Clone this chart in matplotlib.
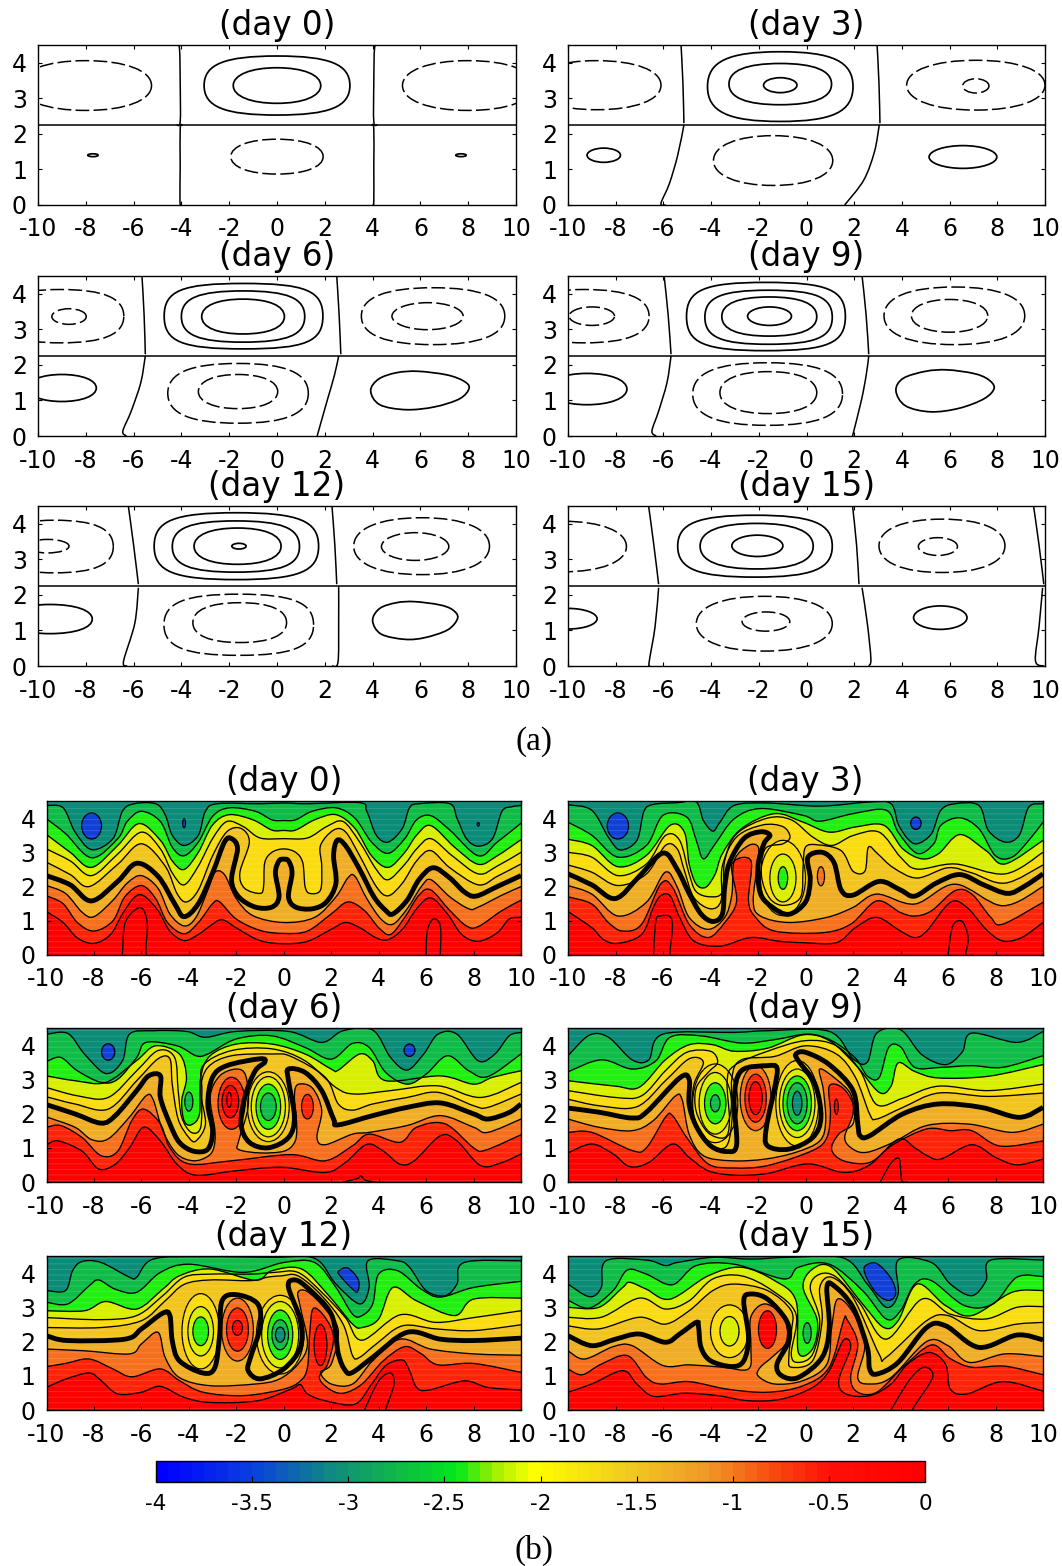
import matplotlib
matplotlib.use("Agg")
import matplotlib.pyplot as plt
from matplotlib.path import Path
from matplotlib.patches import PathPatch, Rectangle
from matplotlib.colors import LinearSegmentedColormap, Normalize
from matplotlib.cm import ScalarMappable

W, H = 1062, 1566

x_ticks = [-10, -8, -6, -4, -2, 0, 2, 4, 6, 8, 10]
y_ticks = [0, 1, 2, 3, 4]
day_names = ["(day 0)", "(day 3)", "(day 6)", "(day 9)", "(day 12)", "(day 15)"]
cbar_ticks = [-4, -3.5, -3, -2.5, -2, -1.5, -1, -0.5, 0]
cbar_labels = ["-4", "-3.5", "-3", "-2.5", "-2", "-1.5", "-1", "-0.5", "0"]
cbar_stops = [(0.0, "#0000ff"), (0.12, "#0a40e0"), (0.225, "#108a80"), (0.31, "#10b848"),
              (0.39, "#00e81c"), (0.44, "#a0f000"), (0.49, "#ffff00"), (0.62, "#f0c820"),
              (0.72, "#f09828"), (0.80, "#f85010"), (0.88, "#ff1008"), (1.0, "#ff0000")]
band_colors = ["#ff0000", "#ff2408", "#f6701e", "#efae26", "#f2c41e", "#fadc10",
               "#d8f000", "#20f010", "#10bc48", "#0a8c78", "#1040d8"]

# ---- (a) streamfunction loops: cx, cy, rx, ry, squareness
a0_solid = [(0, 3.36, 3.05, 0.83, 0.72), (0, 3.36, 1.83, 0.5, 0.6), (-7.7, 1.4, 0.22, 0.04, 0.55), (7.7, 1.4, 0.22, 0.04, 0.55)]
a0_dash = [(-8, 3.36, 2.75, 0.7, 0.6), (8, 3.36, 2.75, 0.7, 0.6), (0, 1.36, 1.93, 0.49, 0.6)]
a0_sep = [[(-4.2, 4.5), (-4.08, 4.4), (-4.05, 3.4), (-4.05, 2.35), (-4.2, 2.25)], [(4.2, 4.5), (4.08, 4.4), (4.05, 3.4), (4.05, 2.35), (4.2, 2.25)],
          [(-10, 2.25), (10, 2.25)], [(-4.0, 0), (-4.06, 0.1), (-4.05, 1.1), (-4.05, 2.15), (-3.95, 2.25)], [(4.0, 0), (4.05, 0.1), (4.05, 1.1), (4.05, 2.15), (3.95, 2.25)]]
a0_blob = []

a3_solid = [(-1.1, 3.33, 3.05, 0.98, 0.72), (-1.1, 3.4, 2.15, 0.58, 0.66), (-1.1, 3.37, 0.7, 0.21, 0.55),
            (-8.5, 1.4, 0.7, 0.2, 0.55), (6.56, 1.35, 1.42, 0.32, 0.55)]
a3_dash = [(-8.8, 3.37, 2.7, 0.69, 0.6), (7.1, 3.37, 2.9, 0.7, 0.6), (7.1, 3.35, 0.55, 0.2, 0.55), (-1.4, 1.25, 2.5, 0.7, 0.6)]
a3_sep = [[(-5.26, 4.5), (-5.18, 3.4), (-5.14, 2.3)], [(-5.14, 2.25), (-5.4, 1.4), (-5.75, 0.6), (-6.1, 0.05), (-5.9, 0)], [(2.96, 4.5), (3.04, 3.4), (3.08, 2.3)],
          [(3.05, 2.25), (2.85, 1.5), (2.4, 0.7), (1.6, 0)], [(-10, 2.25), (10, 2.25)]]
a3_blob = []

a6_solid = [(-1.4, 3.37, 3.32, 0.92, 0.78), (-1.42, 3.36, 2.58, 0.72, 0.72), (-1.42, 3.36, 1.73, 0.49, 0.62), (-9.0, 1.35, 1.44, 0.38, 0.58)]
a6_dash = [(-9.06, 3.37, 2.65, 0.75, 0.68), (-8.7, 3.36, 0.72, 0.22, 0.55), (6.53, 3.37, 3.0, 0.8, 0.66), (6.3, 3.37, 1.49, 0.38, 0.55),
           (-1.63, 1.2, 2.94, 0.84, 0.68), (-1.63, 1.25, 1.66, 0.48, 0.6)]
a6_blob = [(3.92, 1.27), (4.25, 1.6), (5.0, 1.78), (5.9, 1.82), (7.1, 1.72), (7.8, 1.55), (8.04, 1.35), (7.65, 1.05), (6.6, 0.82), (5.4, 0.74), (4.3, 0.88)]
a6_sep = [[(-5.65, 4.5), (-5.56, 3.4), (-5.51, 2.3)], [(-5.51, 2.25), (-5.7, 1.5), (-6.1, 0.7), (-6.45, 0.14), (-6.3, 0)], [(1.68, 0), (2.1, 1.0), (2.4, 1.7), (2.58, 2.25)],
          [(2.5, 4.5), (2.6, 3.4), (2.67, 2.3)], [(-10, 2.25), (10, 2.25)]]

a9_solid = [(-1.7, 3.36, 3.33, 0.96, 0.78), (-1.59, 3.34, 2.67, 0.76, 0.74), (-1.56, 3.36, 1.99, 0.55, 0.66), (-1.55, 3.37, 0.92, 0.26, 0.55),
            (-9.2, 1.32, 1.67, 0.44, 0.58)]
a9_dash = [(-9.3, 3.37, 2.7, 0.75, 0.66), (-9, 3.37, 0.95, 0.26, 0.55), (6.2, 3.38, 2.95, 0.81, 0.64), (6, 3.38, 1.6, 0.46, 0.58),
           (-1.63, 1.18, 3.14, 0.88, 0.68), (-1.6, 1.22, 2.03, 0.59, 0.62)]
a9_blob = [(3.75, 1.27), (4.05, 1.62), (5.0, 1.82), (5.9, 1.86), (7.0, 1.76), (7.6, 1.6), (7.87, 1.35), (7.45, 1.05), (6.4, 0.78), (5.2, 0.68), (4.15, 0.85)]
a9_sep = [[(-5.97, 4.5), (-5.8, 3.4), (-5.68, 2.3)], [(-5.68, 2.25), (-5.85, 1.5), (-6.2, 0.7), (-6.48, 0.14), (-6.3, 0)], [(1.93, 0), (2.3, 1.0), (2.5, 1.7), (2.61, 2.25)],
          [(2.33, 4.5), (2.5, 3.4), (2.61, 2.3)], [(-10, 2.25), (10, 2.25)]]

a12_solid = [(-1.7, 3.37, 3.44, 0.94, 0.76), (-1.72, 3.36, 2.66, 0.72, 0.72), (-1.65, 3.37, 1.82, 0.51, 0.62), (-1.59, 3.37, 0.3, 0.08, 0.55),
             (-9.5, 1.32, 1.77, 0.41, 0.6)]
a12_dash = [(-9.3, 3.36, 2.45, 0.74, 0.68), (-9.6, 3.37, 0.9, 0.19, 0.55), (6.05, 3.37, 2.84, 0.8, 0.62), (5.78, 3.36, 1.41, 0.39, 0.55),
            (-1.6, 1.16, 3.13, 0.86, 0.72), (-1.56, 1.22, 1.96, 0.56, 0.64)]
a12_blob = [(4, 1.28), (4.3, 1.62), (5.0, 1.78), (5.75, 1.81), (6.8, 1.72), (7.35, 1.58), (7.56, 1.35), (7.15, 1.02), (6.2, 0.8), (5.35, 0.75), (4.35, 0.9)]
a12_sep = [[(-6.22, 4.5), (-6, 3.4), (-5.8, 2.3)], [(-5.8, 2.2), (-5.95, 1.2), (-6.42, 0.14), (-6.28, 0)], [(2.3, 0), (2.55, 0.1), (2.58, 1.2), (2.58, 2.25)],
           [(2.3, 4.5), (2.42, 3.4), (2.5, 2.3)], [(-10, 2.25), (10, 2.25)]]

a15_solid = [(-2.16, 3.37, 3.24, 0.87, 0.74), (-2.09, 3.37, 2.37, 0.64, 0.66), (-2.06, 3.38, 1.07, 0.3, 0.55),
             (-10, 1.33, 1.22, 0.29, 0.55), (5.61, 1.36, 1.12, 0.33, 0.55)]
a15_dash = [(-10.2, 3.36, 2.65, 0.71, 0.6), (5.68, 3.38, 2.64, 0.75, 0.62), (5.51, 3.36, 0.82, 0.25, 0.55),
            (-1.77, 1.19, 2.85, 0.77, 0.62), (-1.7, 1.25, 1.0, 0.27, 0.55)]
a15_blob = []
a15_sep = [[(-6.62, 4.5), (-6.4, 3.4), (-6.2, 2.3)], [(-6.2, 2.2), (-6.35, 1.1), (-6.6, 0.1), (-6.55, 0)], [(2.61, 0), (2.7, 0.2), (2.55, 1.2), (2.33, 2.2)],
           [(1.93, 4.5), (2.1, 3.4), (2.2, 2.3)], [(9.52, 4.5), (9.75, 3.4), (9.95, 2.3)], [(9.9, 2.2), (9.75, 1.1), (9.6, 0.15), (9.95, 0)], [(-10, 2.25), (10, 2.25)]]

# ---- (b) vorticity contour levels, lowest to highest, index 3 is the thick one
day0_levels = [
    [(-10, 1.27), (-9.3, 0.95), (-8.7, 0.5), (-8, 0.34), (-7.3, 0.6), (-6.8, 1.2), (-6.3, 1.68), (-5.9, 1.73), (-5.3, 1.3), (-4.8, 0.7), (-4.2, 0.42), (-3.6, 0.6), (-3.1, 0.85), (-2.6, 1.03), (-1.9, 0.75), (-1, 0.42), (0, 0.33), (1, 0.4), (2, 0.75), (2.6, 0.95), (3.2, 0.8), (3.9, 0.5), (4.4, 0.45), (5, 0.75), (5.6, 1.35), (6.2, 1.67), (6.9, 1.2), (7.5, 0.6), (8.2, 0.4), (9, 0.65), (9.5, 1.05), (10, 1.1)],
    [(-10, 1.73), (-9.3, 1.5), (-8.7, 0.95), (-8, 0.7), (-7.2, 1.0), (-6.7, 1.7), (-6, 2.03), (-5.4, 1.65), (-4.9, 0.95), (-4.2, 0.62), (-3.6, 0.95), (-3, 1.5), (-2.7, 1.55), (-2, 1.05), (-1, 0.72), (0, 0.63), (1, 0.7), (2, 1.2), (2.7, 1.55), (3.4, 1.3), (4, 0.8), (4.5, 0.6), (5.1, 1.1), (5.7, 1.75), (6.2, 1.9), (7, 1.3), (7.7, 0.85), (8.2, 0.83), (9.2, 1.3), (10, 1.6)],
    [(-10, 2.03), (-9.2, 1.8), (-8.5, 1.25), (-8, 1.12), (-7.2, 1.6), (-6.6, 2.1), (-6, 2.32), (-5.3, 1.95), (-4.8, 1.2), (-4.2, 0.85), (-3.7, 1.1), (-3.2, 1.9), (-2.9, 2.42), (-2.5, 2.35), (-2, 1.65), (-1.3, 1.15), (0, 0.95), (1.3, 1.1), (2.2, 1.7), (2.7, 2.25), (3, 2.3), (3.5, 1.65), (4.1, 1.05), (4.6, 0.9), (5.2, 1.35), (5.8, 2.0), (6.2, 2.2), (7, 1.7), (7.8, 1.35), (8.2, 1.4), (9.2, 1.75), (10, 2.0)],
    [(-10, 2.32), (-9, 2.05), (-8.1, 1.58), (-7, 2.15), (-6.2, 2.68), (-5.3, 2.3), (-4.6, 1.5), (-4.2, 1.12), (-3.6, 1.5), (-3, 2.4), (-2.5, 3.3), (-2.2, 3.4), (-1.95, 3.1), (-2.2, 2.2), (-1.9, 1.7), (-1.2, 1.4), (-0.5, 1.4), (-0.2, 1.7), (-0.35, 2.4), (-0.2, 2.75), (0, 2.8), (0.2, 2.75), (0.35, 2.4), (0.2, 1.7), (0.5, 1.4), (1.2, 1.35), (1.8, 1.55), (2.2, 2.1), (2.1, 2.9), (2.25, 3.35), (2.6, 3.2), (3.2, 2.5), (3.8, 1.7), (4.3, 1.3), (4.6, 1.2), (5.2, 1.6), (5.7, 2.2), (6.3, 2.55), (7, 2.25), (7.6, 1.85), (8.1, 1.72), (9, 2.0), (10, 2.32)],
    [(-10, 2.71), (-9, 2.35), (-8.2, 2.0), (-7, 2.65), (-6, 3.25), (-5, 2.6), (-4.5, 1.8), (-4.1, 1.55), (-3.6, 1.9), (-3, 2.9), (-2.4, 3.6), (-1.8, 3.7), (-1.45, 3.3), (-1.85, 2.4), (-1.65, 1.95), (-1, 1.8), (-0.85, 2.0), (-0.8, 2.7), (-0.5, 3.0), (0, 3.1), (0.5, 3.0), (0.8, 2.7), (0.9, 2.0), (1.1, 1.8), (1.55, 1.9), (1.6, 2.6), (1.55, 3.2), (2.1, 3.65), (2.6, 3.6), (3.2, 2.9), (3.9, 2.0), (4.4, 1.73), (5, 2.1), (5.6, 2.75), (6.2, 3.05), (7, 2.55), (8.2, 2.05), (9, 2.3), (10, 2.66)],
    [(-10, 3.1), (-9, 2.75), (-8.1, 2.32), (-7, 2.95), (-6, 3.59), (-5.2, 3.1), (-4.7, 2.4), (-4.2, 2.05), (-3.6, 2.6), (-3, 3.4), (-2.4, 3.9), (-1.7, 3.75), (-1, 3.42), (0, 3.4), (1, 3.42), (1.8, 3.75), (2.5, 3.9), (3.2, 3.3), (3.9, 2.5), (4.4, 2.2), (5.1, 2.65), (5.6, 3.1), (6.2, 3.4), (7.1, 2.9), (8.2, 2.37), (9, 2.6), (10, 3.0)],
    [(-10, 3.52), (-9, 3.0), (-8.1, 2.56), (-7, 3.2), (-6.1, 3.84), (-5.2, 3.35), (-4.7, 2.75), (-4.2, 2.5), (-3.6, 3.0), (-3, 3.8), (-2.3, 4.1), (-1.3, 3.95), (-0.5, 3.65), (0, 3.64), (0.5, 3.65), (1.3, 3.95), (2.2, 4.1), (3, 3.7), (3.7, 2.9), (4.4, 2.56), (5.1, 3.0), (5.6, 3.5), (6.2, 3.78), (7.2, 3.15), (8.2, 2.65), (9, 2.9), (10, 3.37)],
    [(-10, 3.98), (-9.2, 3.55), (-8.1, 2.84), (-7, 3.4), (-6.6, 3.9), (-6, 4.2), (-5.2, 3.9), (-4.7, 3.15), (-4.2, 2.9), (-3.6, 3.3), (-3, 4.05), (-2.3, 4.3), (-1.2, 4.2), (-0.5, 3.95), (0, 3.93), (0.5, 3.95), (1.2, 4.2), (2.2, 4.3), (3, 4.0), (3.7, 3.3), (4.4, 2.97), (5.1, 3.4), (5.6, 3.95), (6.2, 4.07), (7, 3.65), (8.2, 2.9), (9, 3.3), (10, 3.85)],
    [(-10, 4.37), (-9.3, 4.3), (-8.8, 3.6), (-8.1, 3.08), (-7.2, 3.4), (-6.8, 4.2), (-6.3, 4.42), (-5.4, 4.42), (-5, 4.1), (-4.7, 3.5), (-4.2, 3.2), (-3.6, 3.5), (-3.3, 4.2), (-2.8, 4.42), (-1, 4.42), (0, 4.44), (1, 4.42), (3.2, 4.45), (3.5, 4.2), (3.9, 3.5), (4.4, 3.3), (5, 3.7), (5.3, 4.3), (5.7, 4.42), (7, 4.42), (7.3, 4.0), (7.7, 3.4), (8.2, 3.18), (8.8, 3.4), (9.2, 4.2), (9.6, 4.33), (10, 4.37)],
]
day0_humps = [[(-6.8, 0), (-6.7, 0.9), (-6.3, 1.3), (-5.95, 1.35), (-5.75, 0.9), (-5.8, 0.05), (-5.5, 0)], [(6.0, 0), (6.05, 0.7), (6.3, 1.05), (6.6, 0.85), (6.6, 0)]]
day0_islands = [(-8.1, 3.77, 0.42, 0.38, 10), (-4.2, 3.85, 0.06, 0.13, 10), (8.2, 3.82, 0.05, 0.05, 10)]
day0_blobs = []

day3_levels = [
    [(-10, 1.27), (-9, 0.8), (-8.5, 0.45), (-7.9, 0.34), (-6.9, 0.6), (-6.4, 1.4), (-6.1, 1.73), (-5.7, 1.73), (-5.3, 1.1), (-4.7, 0.41), (-3.6, 0.26), (-2.3, 0.51), (-1.1, 0.4), (-0.1, 0.36), (1.3, 0.36), (2.1, 0.8), (3, 1.1), (4, 0.7), (4.6, 0.51), (5.1, 0.7), (6.1, 1.54), (6.8, 1.39), (7.6, 0.75), (8.3, 0.41), (9.1, 0.51), (10, 0.95)],
    [(-10, 1.7), (-9, 1.49), (-8.3, 0.95), (-7.7, 0.7), (-6.9, 0.9), (-6.1, 2.07), (-5.6, 1.98), (-4.9, 0.9), (-4.1, 0.51), (-3.4, 0.95), (-2.9, 1.58), (-3.1, 2.65), (-2.3, 2.76), (-2.4, 1.58), (-2.1, 1.1), (-1.3, 0.7), (0.7, 0.65), (1.9, 0.9), (3, 1.58), (4, 1.24), (4.6, 1.14), (5.3, 1.29), (6.3, 1.88), (7, 1.78), (7.8, 1.1), (8.3, 0.9), (10, 1.54)],
    [(-10, 2.03), (-9, 1.78), (-7.9, 1.14), (-6.7, 1.54), (-5.9, 2.42), (-5.4, 1.98), (-4.9, 1.1), (-4.1, 0.75), (-3.4, 1.1), (-3.1, 1.77), (-3.0, 2.76), (-2.4, 3.2), (-2, 3.17), (-2, 2.76), (-2.2, 1.58), (-1.9, 1.14), (-0.7, 0.95), (0.9, 1.1), (2, 1.39), (3, 1.78), (4.6, 1.49), (6.3, 2.07), (8.3, 1.44), (10, 2.0)],
    [(-10, 2.37), (-9, 2.05), (-8, 1.65), (-7, 2.3), (-6, 2.98), (-5.4, 2.5), (-4.9, 1.8), (-4.4, 1.2), (-3.9, 0.98), (-3.5, 1.2), (-3.4, 2.0), (-3.2, 2.7), (-2.6, 3.4), (-1.9, 3.6), (-1.5, 3.5), (-1.75, 3.25), (-2, 2.6), (-1.9, 1.8), (-1.4, 1.4), (-0.7, 1.19), (0, 1.55), (0.2, 2.2), (0.1, 2.85), (0.7, 3.0), (1.2, 2.7), (1.5, 1.9), (2, 1.75), (3.1, 2.15), (4.0, 1.9), (4.6, 1.72), (5.5, 2.1), (6.5, 2.35), (7.5, 2.05), (8.5, 1.8), (9.2, 2.0), (10, 2.37)],
    [(-10, 2.63), (-9, 2.42), (-7.9, 2.03), (-6.7, 2.37), (-5.9, 3.2), (-5.4, 3.1), (-5.1, 2.47), (-4.7, 1.68), (-4, 1.35), (-3.55, 1.6), (-3.5, 2.6), (-2.9, 3.45), (-1.8, 3.8), (-0.95, 3.75), (-0.65, 3.45), (-0.95, 3.25), (-1.7, 3.1), (-1.85, 2.3), (-1.5, 1.65), (-0.9, 1.45), (-0.2, 1.7), (-0.1, 2.6), (0, 3.15), (0.5, 3.22), (1.5, 3.05), (2, 2.45), (2.5, 2.45), (2.65, 3.15), (3.05, 2.95), (3.7, 2.55), (4.7, 2.25), (6, 2.55), (7, 2.4), (8.4, 2.1), (10, 2.63)],
    [(-10, 3.0), (-9, 2.86), (-7.9, 2.32), (-6.7, 2.66), (-5.9, 3.49), (-5.3, 3.35), (-4.9, 2.37), (-4.6, 1.85), (-4, 1.7), (-3.5, 1.85), (-3.4, 2.76), (-2.9, 3.54), (-1.6, 4.0), (-0.6, 3.95), (0.3, 3.45), (1.1, 3.2), (2, 3.49), (3.1, 3.59), (4, 2.86), (4.7, 2.51), (6.3, 2.66), (8.4, 2.37), (10, 3.0)],
    [(-10, 3.38), (-9, 3.2), (-7.9, 2.58), (-6.7, 2.91), (-5.7, 3.79), (-5.1, 3.59), (-4.9, 2.66), (-4.6, 2.07), (-4.2, 1.98), (-3.8, 2.37), (-3.5, 2.96), (-2.7, 3.69), (-1.3, 4.13), (-0.1, 3.88), (1, 3.59), (2.1, 3.74), (3.3, 3.79), (4.1, 3.1), (4.9, 2.81), (5.6, 2.96), (6.5, 3.52), (7.6, 3.05), (8.4, 2.66), (10, 3.35)],
    [(-10, 3.88), (-9, 3.5), (-7.9, 2.86), (-6.7, 3.2), (-6, 4.08), (-5, 4.03), (-4.6, 3.35), (-4.3, 2.81), (-3.8, 3.25), (-3, 3.98), (-1.9, 4.28), (-0.1, 4.08), (0.6, 3.91), (2, 4.13), (3.4, 4.23), (3.9, 3.59), (4.7, 2.97), (5.4, 3.25), (5.7, 3.79), (6.5, 4.01), (7.3, 3.69), (8, 2.9), (8.7, 2.86), (9.4, 3.35), (10, 3.88)],
    [(-10, 4.39), (-9, 4.23), (-8.3, 3.44), (-7.8, 3.07), (-7.1, 3.35), (-6.8, 4.2), (-6.4, 4.4), (-5.4, 4.45), (-4.6, 4.47), (-4.3, 3.93), (-3.9, 3.62), (-3.6, 3.88), (-3, 4.37), (-1.6, 4.44), (0.6, 4.35), (2.7, 4.47), (3.6, 4.42), (3.9, 3.83), (4.3, 3.4), (4.7, 3.25), (5.3, 3.54), (5.7, 4.23), (6.3, 4.42), (7.3, 4.37), (7.7, 3.64), (8.4, 3.3), (9, 3.5), (9.4, 4.32), (10, 4.42)],
]
day3_humps = [[(-6.4, 0), (-6.3, 1.0), (-6.1, 1.14), (-5.7, 1.12), (-5.6, 0.8), (-5.7, 0), (-5.4, 0)], [(6.0, 0), (6.2, 0.85), (6.6, 0.98), (6.85, 0.5), (6.75, 0), (7, 0)]]
day3_islands = [(-7.9, 3.77, 0.45, 0.38, 10), (4.65, 3.85, 0.22, 0.18, 10), (-0.95, 2.25, 0.95, 1.1, 5), (-0.95, 2.25, 0.55, 0.7, 6), (-0.95, 2.25, 0.2, 0.33, 7), (0.65, 2.3, 0.15, 0.28, 2)]
day3_blobs = []

day6_levels = [
    [(-10, 1.09), (-9.5, 1.2), (-8.5, 0.9), (-7.8, 0.38), (-7.1, 0.52), (-6.5, 1.0), (-5.9, 1.6), (-5.2, 1.2), (-4.5, 0.52), (-3.7, 0.2), (-2, 0.33), (-0.1, 0.43), (1.75, 0.28), (2.6, 0.57), (3.5, 1.1), (4.2, 0.9), (4.9, 0.52), (5.5, 0.62), (6.6, 1.35), (7.3, 1.2), (8.3, 0.48), (9.2, 0.57), (10, 0.82)],
    [(-10, 1.6), (-9.4, 1.65), (-8.5, 1.3), (-7.7, 0.77), (-7, 0.9), (-6.4, 1.8), (-5.9, 2.13), (-5.2, 1.7), (-4.8, 1.0), (-4, 0.53), (-2.2, 0.62), (0.3, 0.8), (1.75, 0.62), (2.9, 1.06), (3.6, 1.4), (4.9, 1.16), (5.6, 1.6), (6.8, 1.7), (8, 1.0), (8.5, 0.93), (10, 1.38)],
    [(-10, 1.9), (-8.8, 1.6), (-8.1, 1.24), (-7.4, 1.26), (-6.5, 1.9), (-5.8, 2.52), (-5.5, 2.4), (-5.1, 1.5), (-4.5, 0.82), (-3.8, 0.62), (-3.2, 0.75), (-2.95, 1.0), (-2.9, 1.5), (-3.1, 2.5), (-2.7, 3.1), (-2, 3.3), (-1.6, 3.1), (-1.5, 2.2), (-1.9, 1.2), (-1.9, 0.95), (-1, 0.85), (0, 0.9), (0.45, 1.15), (0.55, 1.6), (0.45, 2.5), (0.6, 2.85), (1.2, 2.75), (1.6, 2.1), (1.4, 1.3), (1.75, 1.09), (2.9, 1.4), (3.6, 1.45), (5.2, 1.65), (6.6, 1.94), (8, 1.6), (8.6, 1.45), (10, 1.84)],
    [(-10, 2.26), (-8.8, 1.99), (-7.7, 1.72), (-7.1, 1.94), (-6.2, 2.67), (-5.7, 3.1), (-5.2, 3.1), (-5.2, 2.47), (-4.8, 1.7), (-4.4, 1.16), (-3.8, 0.9), (-3.2, 0.96), (-3, 1.5), (-3.2, 2.28), (-3, 3.06), (-2.4, 3.4), (-1, 3.6), (-0.8, 3.5), (-1.2, 3.25), (-1.6, 2.57), (-1.8, 1.7), (-1.45, 1.16), (-0.65, 1), (0.2, 1.3), (0.45, 1.9), (0.2, 2.96), (0.2, 3.3), (0.9, 3.2), (1.6, 2.67), (2.1, 1.84), (2.3, 1.67), (3.75, 1.94), (5.2, 2.18), (6.6, 2.31), (8, 1.99), (8.6, 1.84), (9.5, 2.03), (10, 2.28)],
    [(-10, 2.49), (-8.8, 2.28), (-7.4, 2.13), (-6.2, 2.96), (-5.3, 3.6), (-4.8, 3.6), (-4.7, 2.86), (-4.45, 1.84), (-4, 1.3), (-3.7, 1.2), (-3.3, 1.7), (-3.5, 2.67), (-3.2, 3.35), (-2.2, 3.69), (-0.5, 3.74), (0.3, 3.67), (1.75, 3.06), (2.3, 2.28), (2.9, 2.1), (3.75, 2.28), (5.2, 2.47), (6.5, 2.62), (8, 2.23), (8.6, 2.18), (10, 2.57)],
    [(-10, 2.76), (-8.7, 2.52), (-7.4, 2.47), (-6.2, 3.25), (-5.3, 3.84), (-4.6, 3.64), (-4.45, 2.67), (-4.3, 1.89), (-3.9, 1.45), (-3.5, 1.6), (-3.45, 2.67), (-3.4, 3.4), (-2.2, 3.84), (-0.5, 3.89), (0.9, 3.54), (2.2, 2.76), (3, 2.57), (4.5, 2.67), (6.5, 2.81), (8.3, 2.47), (10, 2.91)],
    [(-10, 3.1), (-8.8, 2.96), (-7.5, 2.91), (-6.2, 3.55), (-5.4, 3.98), (-4.4, 3.74), (-4.1, 3.06), (-4.3, 2.38), (-4.2, 1.79), (-3.9, 1.67), (-3.55, 1.99), (-3.5, 3.06), (-3.1, 3.69), (-2, 4.03), (-0.5, 4.03), (0.9, 3.74), (2, 3.3), (2.3, 3.27), (3.2, 3.74), (3.75, 3.54), (4.3, 2.96), (6.6, 3.1), (8, 2.86), (8.8, 3.06), (10, 3.25)],
    [(-10, 3.52), (-9.4, 3.64), (-8.7, 3.25), (-7.7, 2.91), (-7, 3.0), (-6.2, 3.64), (-5.8, 4.08), (-4.5, 3.98), (-3.7, 3.69), (-3.2, 3.74), (-2, 4.18), (-0.5, 4.27), (0.9, 3.93), (2, 3.59), (2.9, 4.05), (3.6, 3.93), (4.3, 3.2), (5.2, 2.86), (6, 3.15), (6.9, 3.69), (7.8, 3.25), (8.6, 3.08), (10, 3.74)],
    [(-10, 4.32), (-9.1, 4.34), (-8.4, 3.74), (-7.5, 3.17), (-6.8, 3.54), (-6.5, 4.32), (-5.5, 4.42), (-4.1, 4.4), (-3.3, 4.23), (-2, 4.4), (0.2, 4.4), (1.6, 4.08), (2.5, 4.42), (3.75, 4.44), (4.5, 3.64), (5.2, 3.27), (5.9, 3.74), (6.5, 4.32), (7.3, 4.32), (8.2, 3.54), (8.9, 3.74), (9.5, 4.27), (10, 4.37)],
]
day6_humps = [[(2.5, 0), (3.1, 0.1), (3.25, 0.18), (3.45, 0.05), (3.9, 0)]]
day6_islands = [(-7.4, 3.8, 0.28, 0.24, 10), (5.3, 3.85, 0.23, 0.18, 10), (-4.0, 2.35, 0.17, 0.28, 8),
                (-2.2, 2.3, 0.57, 0.76, 1), (-2.25, 2.35, 0.35, 0.47, 0), (-2.3, 2.4, 0.1, 0.22, 0),
                (-0.65, 2.2, 0.88, 1.02, 5), (-0.65, 2.2, 0.72, 0.88, 6), (-0.65, 2.2, 0.52, 0.66, 7), (-0.65, 2.2, 0.33, 0.4, 8),
                (1.0, 2.2, 0.25, 0.36, 1)]
day6_blobs = []

day9_levels = [
    [(-10, 0.85), (-9, 1.11), (-8.1, 0.82), (-7.4, 0.45), (-6.6, 0.57), (-5.6, 1.11), (-4.9, 0.72), (-4.1, 0.33), (-3, 0.2), (-1.6, 0.25), (0.1, 0.53), (1.6, 0.28), (2.7, 0.5), (3.9, 1.25), (4.6, 1.0), (5.1, 0.78), (5.7, 0.67), (7, 1.09), (8, 0.72), (8.9, 0.5), (10, 0.67)],
    [(-10, 1.45), (-9, 1.45), (-7.3, 0.92), (-6.7, 1), (-5.9, 1.89), (-5.6, 1.94), (-5, 1.3), (-4.1, 0.53), (-3, 0.41), (-1.6, 0.48), (0.3, 0.92), (0.9, 1.3), (1.05, 2.0), (1.0, 2.8), (1.55, 2.76), (2, 2.28), (2, 1.7), (1.4, 1.4), (1.1, 0.95), (1.6, 0.62), (2.7, 0.57), (3.7, 1.1), (5.1, 1.55), (6.1, 1.5), (7, 1.5), (8.2, 1.05), (10, 1.2)],
    [(-10, 1.84), (-8.7, 1.6), (-7.3, 1.5), (-6.4, 1.8), (-5.5, 2.5), (-5.2, 2.42), (-4.9, 1.4), (-4.3, 0.77), (-3.1, 0.62), (-1.7, 0.67), (-0.4, 0.87), (0.6, 1.2), (0.85, 1.77), (0.75, 2.7), (0.6, 3.3), (1.3, 3.0), (1.9, 2.57), (2, 1.99), (1.65, 1.3), (2, 0.96), (2.6, 0.87), (3.7, 1.16), (5.1, 1.65), (6.9, 1.69), (8.7, 1.45), (10, 1.69)],
    [(-10, 2.16), (-8.7, 2.04), (-7.3, 1.87), (-6.7, 2.04), (-5.3, 3.04), (-4.9, 3.0), (-4.9, 2.28), (-4.6, 1.63), (-4, 1.06), (-3.3, 0.89), (-2.9, 1.09), (-3, 2.45), (-2.7, 3.25), (-1.6, 3.4), (-1.2, 3.33), (-1.3, 2.75), (-1.65, 1.58), (-1.6, 1.06), (-0.7, 0.96), (0.3, 1.3), (0.65, 1.89), (0.4, 2.86), (-0.3, 3.54), (-0.4, 3.74), (0, 3.79), (1, 3.43), (2, 2.67), (2.2, 1.7), (2.3, 1.35), (2.7, 1.35), (4.1, 1.99), (5.6, 2.28), (7.4, 2.18), (9, 1.89), (10, 2.18)],
    [(-10, 2.42), (-8.7, 2.23), (-7.1, 2.2), (-5.9, 2.96), (-4.9, 3.6), (-4.3, 3.5), (-4.7, 2.84), (-4.75, 2.0), (-4.3, 1.23), (-3.4, 1.0), (-3.1, 1.77), (-3.1, 3.04), (-2.7, 3.57), (-1.3, 3.67), (0, 3.98), (1.3, 3.74), (2.1, 3.06), (2.7, 1.99), (3, 1.84), (4.1, 2.18), (5.6, 2.6), (7.7, 2.5), (10, 2.6)],
    [(-10, 2.67), (-8, 2.47), (-6.9, 2.52), (-5.9, 3.25), (-5, 3.79), (-4, 3.82), (-3.7, 3.5), (-4.1, 3.2), (-4.6, 2.75), (-4.6, 2.06), (-4.1, 1.44), (-3.4, 1.3), (-3.2, 1.77), (-3.3, 2.94), (-3, 3.4), (-1.6, 3.82), (0, 4.13), (1.3, 3.98), (2.3, 3.25), (3, 2.26), (4.1, 2.45), (5.6, 2.8), (7.7, 2.67), (10, 2.86)],
    [(-10, 2.96), (-8, 2.8), (-7, 2.77), (-5.9, 3.57), (-4.9, 4.01), (-3.9, 4.01), (-3, 3.82), (-1.6, 3.91), (-0.1, 4.3), (1, 4.13), (2.1, 3.43), (3.1, 2.62), (3.6, 2.8), (3.9, 3.48), (4.6, 3.23), (5.6, 3.04), (7.7, 3.09), (10, 3.43)],
    [(-10, 3.22), (-8.6, 3.57), (-7.3, 3.3), (-6.3, 3.54), (-5.7, 4.23), (-4.4, 4.27), (-2.7, 4.06), (-1.3, 4.16), (0.1, 4.32), (1.1, 4.13), (2.1, 3.62), (2.6, 3.1), (3.1, 3.05), (3.5, 3.93), (4, 3.95), (4.6, 3.35), (5.7, 3.35), (7, 3.4), (8.3, 3.35), (10, 3.69)],
    [(-10, 3.69), (-9.1, 4.29), (-8.3, 4.23), (-7.3, 3.57), (-6.6, 3.57), (-6, 4.32), (-3, 4.37), (-1.6, 4.42), (1, 4.4), (2, 3.6), (2.6, 3.5), (3, 4.35), (4, 4.45), (4.9, 3.72), (5.9, 3.43), (6.6, 3.8), (7, 4.35), (8.9, 4.08), (10, 4.4)],
]
day9_humps = [[(3.15, 0), (3.6, 0.55), (3.95, 0.67), (4.05, 0.05), (4.3, 0)]]
day9_islands = [(-3.8, 2.3, 0.95, 1.15, 5), (-3.8, 2.3, 0.68, 0.9, 6), (-3.8, 2.3, 0.45, 0.6, 7), (-3.8, 2.3, 0.2, 0.25, 8),
                (-2.1, 2.45, 0.65, 0.95, 2), (-2.1, 2.45, 0.45, 0.7, 1), (-2.1, 2.45, 0.28, 0.48, 0),
                (-0.35, 2.3, 0.9, 1.25, 5), (-0.35, 2.3, 0.75, 1.0, 6), (-0.35, 2.3, 0.6, 0.8, 7), (-0.35, 2.3, 0.42, 0.6, 8), (-0.35, 2.3, 0.2, 0.35, 9),
                (1.3, 2.2, 0.08, 0.22, 0)]
day9_blobs = []

day12_levels = [
    [(-10, 0.66), (-9.2, 0.9), (-8.2, 1.08), (-7.7, 0.86), (-7, 0.47), (-6, 0.52), (-5.2, 0.69), (-4.2, 0.37), (-3.1, 0.22), (-1.1, 0.27), (0.3, 0.61), (0.7, 0.74), (1, 0.47), (1.75, 0.27), (3, 0.17), (3.7, 0.75), (4.3, 1.3), (5, 1.46), (5.3, 1.15), (5.6, 0.66), (6.1, 0.58), (7.6, 0.85), (8.6, 0.66), (10, 0.58)],
    [(-10, 1.27), (-9.2, 1.36), (-8.2, 1.49), (-7.2, 1.2), (-6.4, 0.97), (-5.2, 1.2), (-4.4, 0.86), (-3.4, 0.52), (-1.7, 0.42), (0, 0.61), (0.7, 0.85), (1, 1.25), (1.1, 2.3), (1.25, 2.97), (1.75, 2.7), (2.1, 2.12), (1.85, 1.34), (1.5, 0.95), (1.9, 0.62), (2.5, 0.49), (3.3, 0.76), (4.2, 1.44), (5.1, 1.85), (5.8, 1.64), (6.5, 1.32), (8, 1.36), (10, 1.1)],
    [(-10, 1.78), (-8.4, 1.73), (-6.5, 1.64), (-6, 1.93), (-5.3, 2.27), (-5, 1.54), (-4.4, 0.95), (-3.1, 0.71), (-1.2, 0.76), (-0.2, 0.9), (0.6, 1.34), (1, 1.93), (0.7, 3.0), (0.6, 3.44), (1, 3.46), (1.75, 2.95), (2.3, 2.32), (2, 1.34), (1.55, 1.1), (2, 0.76), (2.9, 0.76), (3.75, 1.44), (4.9, 2.07), (6.2, 1.78), (8, 1.64), (10, 1.6)],
    [(-10, 2.17), (-9.1, 2.03), (-6.7, 2.07), (-6, 2.37), (-5.1, 2.83), (-4.8, 2.76), (-4.7, 2.03), (-4.4, 1.44), (-3.4, 1.08), (-2.9, 1.25), (-2.7, 2.22), (-2.6, 3.19), (-2, 3.37), (-1.1, 3.1), (-1, 2.41), (-1.4, 1.54), (-1.5, 1.15), (-1, 0.91), (0, 1.2), (0.7, 1.83), (0.7, 2.61), (0.2, 3.58), (0.4, 3.8), (0.9, 3.63), (2, 2.8), (2.3, 1.64), (2.6, 1.15), (2.9, 1.1), (3.75, 1.54), (5.2, 2.27), (6.6, 2.07), (8, 2.03), (10, 2.1)],
    [(-10, 2.41), (-7.7, 2.41), (-6, 2.61), (-5, 3.19), (-4.2, 3.67), (-3.1, 3.8), (-1.4, 3.78), (-0.7, 3.88), (-0.1, 3.92), (0.6, 3.92), (1.6, 3.34), (2.5, 2.51), (2.9, 1.59), (3.2, 1.54), (3.9, 1.93), (5, 2.46), (6.4, 2.37), (8, 2.32), (10, 2.49)],
    [(-10, 2.7), (-7.7, 2.64), (-6.2, 2.76), (-5.1, 3.34), (-4.2, 3.88), (-3.1, 3.97), (-1.4, 3.97), (-0.4, 4.02), (0.6, 4.02), (1.6, 3.44), (2.6, 2.7), (3.3, 2.04), (4.9, 2.78), (6.4, 2.56), (8, 2.7), (10, 2.9)],
    [(-10, 2.9), (-8.4, 2.9), (-7.5, 3.17), (-6.2, 2.95), (-5.1, 3.53), (-4.4, 3.92), (-3.1, 4.12), (-1.2, 3.79), (-0.5, 4.07), (0.75, 4.12), (1.9, 3.34), (2.9, 2.51), (3.3, 2.41), (4, 2.66), (4.6, 3.58), (5.6, 3.19), (7.2, 2.76), (8, 3.24), (10, 3.27)],
    [(-10, 3.15), (-9.1, 3.1), (-8.2, 3.63), (-7.8, 3.8), (-7.1, 3.53), (-6.2, 3.44), (-5.2, 4.02), (-4, 4.26), (-1.7, 4.02), (0, 4.31), (1.3, 4.31), (2.2, 3.58), (2.9, 2.8), (3.3, 2.76), (3.75, 3.1), (4, 3.97), (4.8, 4.07), (5.8, 3.53), (6.6, 3.3), (8, 3.58), (10, 3.76)],
    [(-10, 3.49), (-9.2, 3.49), (-8.9, 4.07), (-8.5, 4.34), (-7.7, 4.31), (-6.5, 3.88), (-6.2, 3.88), (-5.5, 4.41), (-3.4, 4.48), (-0.5, 4.46), (1.3, 4.43), (2.2, 3.68), (3.2, 3.1), (3.6, 3.58), (3.55, 4.36), (4.8, 4.36), (5.3, 4.17), (6, 3.49), (6.8, 3.34), (7.3, 3.68), (7.6, 4.31), (10, 4.36)],
]
day12_humps = [[(3.4, 0), (4, 0.85), (4.5, 1.08), (4.65, 0.75), (4.3, 0), (4.5, 0)]]
day12_islands = [(-3.5, 2.3, 0.79, 1.1, 5), (-3.5, 2.3, 0.54, 0.72, 6), (-3.5, 2.3, 0.33, 0.42, 7),
                 (-1.95, 2.35, 0.67, 0.92, 2), (-1.95, 2.35, 0.46, 0.63, 1), (-1.95, 2.4, 0.21, 0.22, 0),
                 (-0.15, 2.2, 1.0, 1.15, 5), (-0.15, 2.2, 0.78, 0.97, 6), (-0.15, 2.2, 0.53, 0.72, 7), (-0.15, 2.2, 0.35, 0.44, 8), (-0.15, 2.2, 0.2, 0.22, 9),
                 (1.55, 1.9, 0.27, 0.6, 0)]
day12_blobs = [[(2.3, 4.05), (2.7, 4.15), (3.15, 3.8), (3.1, 3.45), (2.8, 3.6), (2.4, 3.9)]]

day15_levels = [
    [(-10, 0.52), (-9, 0.76), (-7.7, 1.15), (-7.1, 0.76), (-6.4, 0.4), (-5.1, 0.49), (-3.7, 0.42), (-2.4, 0.27), (-1, 0.32), (0.3, 0.66), (1, 1.15), (1.6, 2.04), (1.9, 1.83), (1.4, 0.86), (1.7, 0.47), (2.7, 0.42), (3.6, 0.76), (4.3, 1.34), (5.2, 1.68), (5.9, 1.34), (6.1, 0.61), (6.8, 0.47), (8.3, 0.83), (10, 0.55)],
    [(-10, 1.2), (-9.4, 1.03), (-8.6, 1.34), (-7.5, 1.59), (-6.7, 0.95), (-6.1, 0.76), (-4.9, 0.83), (-3.3, 0.61), (-1.6, 0.52), (-0.1, 0.71), (1, 1.25), (1.6, 2.61), (1.75, 2.64), (2.2, 1.93), (1.9, 0.95), (2.2, 0.52), (3, 0.52), (4.1, 1.25), (5.3, 1.9), (6.1, 1.5), (7, 1.25), (8.4, 1.28), (10, 1.03)],
    [(-10, 1.73), (-9.3, 1.49), (-8.1, 1.85), (-7.3, 1.88), (-6, 1.3), (-4.9, 1.32), (-3.5, 1.25), (-2.4, 1.2), (-2.3, 1.85), (-2.3, 2.72), (-1.7, 3.1), (-0.9, 2.7), (-0.8, 2.0), (-1.4, 1.55), (-1.9, 1.25), (-2, 1.0), (-1.3, 0.76), (-0.1, 0.86), (0.9, 1.34), (1.1, 2.4), (1.35, 3.24), (2, 2.85), (2.5, 1.93), (2.2, 0.95), (2.7, 0.76), (3.6, 0.95), (5.1, 2.0), (6, 1.88), (6.9, 1.39), (8.4, 1.64), (10, 1.56)],
    [(-10, 2.17), (-9, 1.88), (-8, 2.07), (-7, 2.22), (-5.9, 1.98), (-5.3, 2.22), (-4.6, 2.56), (-4.5, 2.41), (-4.4, 1.83), (-4, 1.44), (-3.1, 1.27), (-2.6, 1.44), (-2.4, 2.12), (-2.6, 3.19), (-2.3, 3.39), (-1.6, 3.24), (-0.8, 2.61), (-0.7, 2.03), (-1.2, 1.34), (-1, 1.0), (-0.3, 0.95), (0.7, 1.54), (1, 2.41), (0.9, 3.58), (1.2, 3.63), (2, 3), (2.6, 1.83), (2.7, 1.2), (3, 1.05), (3.9, 1.39), (5.1, 2.41), (5.9, 2.46), (7.3, 1.83), (8.9, 2.19), (10, 2.05)],
    [(-10, 2.46), (-8.7, 2.37), (-7, 2.71), (-5.9, 2.51), (-4.9, 2.9), (-3.9, 3.49), (-3, 3.68), (-1.6, 3.49), (-0.6, 2.9), (-0.6, 2.26), (-0.7, 1.56), (-0.6, 1.25), (0.3, 1.44), (0.7, 2.61), (0.6, 3.58), (1.1, 3.88), (2, 3.29), (3.1, 1.63), (3.4, 1.54), (5.1, 2.61), (6, 2.76), (7.3, 2.32), (8.9, 2.51), (10, 2.56)],
    [(-10, 2.71), (-8.6, 2.71), (-7, 3.27), (-5.9, 2.95), (-4.9, 3.19), (-3.9, 3.83), (-2.7, 3.92), (-1.4, 3.49), (-0.4, 2.8), (-0.6, 1.63), (-0.3, 1.39), (0.3, 1.63), (0.6, 2.61), (0.2, 3.58), (0.6, 3.97), (1.3, 3.88), (2.3, 3.1), (3.4, 2.07), (4.9, 3.24), (6.1, 2.8), (7.6, 2.66), (8.9, 3), (10, 3.02)],
    [(-10, 3), (-8.7, 3), (-7.7, 3.58), (-7.4, 3.73), (-6.7, 3.53), (-5.7, 3.24), (-4.1, 3.92), (-2.7, 4.17), (-1.3, 3.78), (-0.4, 3.19), (-0.3, 1.68), (0.3, 1.79), (0.5, 2.61), (-0.1, 3.58), (0.3, 4.12), (1.1, 4.17), (2.4, 3.1), (3.3, 2.41), (3.9, 2.61), (4.7, 3.68), (5.9, 3.05), (7, 2.76), (8.7, 3.44), (10, 3.49)],
    [(-10, 3.21), (-9.1, 2.98), (-8.1, 3.49), (-7.5, 4.09), (-6.7, 3.97), (-5.6, 3.66), (-4.6, 4.22), (-3, 4.26), (-0.9, 3.83), (-0.3, 4.17), (1, 4.26), (2.4, 3.49), (3.4, 2.66), (4, 2.9), (4.6, 3.68), (5.3, 3.78), (6.7, 3.05), (7.9, 3.1), (8.9, 3.88), (10, 3.9)],
    [(-10, 3.68), (-9.1, 3.31), (-8.6, 3.58), (-8.4, 4.36), (-6.7, 4.38), (-5.9, 4.22), (-5.4, 4.31), (-3.9, 4.46), (-2.3, 4.41), (-0.7, 4.46), (1.6, 4.44), (2.6, 3.68), (3.4, 3), (3.9, 3.39), (3.9, 4.38), (5.3, 4.31), (6.1, 3.68), (7, 3.34), (7.6, 3.78), (7.8, 4.38), (10, 4.38)],
]
day15_humps = [[(3.6, 0), (4.4, 0.9), (5, 1.25), (5.35, 0.95), (4.5, 0), (4.9, 0)]]
day15_islands = [(-3.2, 2.3, 0.8, 0.77, 5), (-3.2, 2.3, 0.4, 0.43, 6), (0.07, 2.25, 0.17, 0.3, 8), (-1.6, 2.35, 0.38, 0.55, 0)]
day15_blobs = [[(2.5, 4.2), (3, 4.28), (3.6, 3.85), (3.8, 3.4), (3.5, 3.2), (3, 3.4), (2.55, 3.9)]]

a_panels = [(a0_solid, a0_dash, a0_sep, a0_blob), (a3_solid, a3_dash, a3_sep, a3_blob), (a6_solid, a6_dash, a6_sep, a6_blob),
            (a9_solid, a9_dash, a9_sep, a9_blob), (a12_solid, a12_dash, a12_sep, a12_blob), (a15_solid, a15_dash, a15_sep, a15_blob)]
b_panels = [(day0_levels, day0_humps, day0_islands, day0_blobs), (day3_levels, day3_humps, day3_islands, day3_blobs),
            (day6_levels, day6_humps, day6_islands, day6_blobs), (day9_levels, day9_humps, day9_islands, day9_blobs),
            (day12_levels, day12_humps, day12_islands, day12_blobs), (day15_levels, day15_humps, day15_islands, day15_blobs)]

# pixel boxes: left, right, top, bottom
a_boxes = [(38, 516, 45, 205), (568, 1045, 45, 205), (38, 516, 276, 436), (568, 1045, 276, 436), (38, 516, 506, 666), (568, 1045, 506, 666)]
b_boxes = [(46.5, 521, 801, 955), (568, 1043, 801, 955), (46.5, 521, 1028, 1182), (568, 1043, 1028, 1182), (46.5, 521, 1256, 1410), (568, 1043, 1256, 1410)]


def make_axes(fig, box):
    l, r, t, b = box
    return fig.add_axes([l / W, 1 - b / H, (r - l) / W, (b - t) / H])


def style_axes(ax, name):
    ax.set_xlim(-10, 10)
    ax.set_ylim(0, 4.5)
    ax.set_xticks(x_ticks, labels=[str(v) for v in x_ticks])
    ax.set_yticks(y_ticks, labels=[str(v) for v in y_ticks])
    ax.tick_params(direction="in", top=True, right=True, length=3, width=0.8, labelsize=17)
    ax.tick_params(axis="x", pad=9)
    ax.tick_params(axis="y", pad=8)
    ax.set_title(name, fontsize=23.5, pad=7)
    for s in ax.spines.values():
        s.set_linewidth(1.0)
        s.set_zorder(20)


def smooth_verts(pts, closed=False):
    # catmull-rom through the read points, as bezier segments
    n = len(pts)
    verts = [pts[0]]
    codes = [Path.MOVETO]
    last = n if closed else n - 1
    for i in range(last):
        if closed:
            p0, p1, p2, p3 = pts[(i - 1) % n], pts[i], pts[(i + 1) % n], pts[(i + 2) % n]
        else:
            p0, p1, p2, p3 = pts[max(i - 1, 0)], pts[i], pts[i + 1], pts[min(i + 2, n - 1)]
        c1 = (p1[0] + (p2[0] - p0[0]) / 6, p1[1] + (p2[1] - p0[1]) / 6)
        c2 = (p2[0] - (p3[0] - p1[0]) / 6, p2[1] - (p3[1] - p1[1]) / 6)
        verts += [c1, c2, p2]
        codes += [Path.CURVE4] * 3
    return verts, codes


def loop_path(cx, cy, rx, ry, k=0.55):
    signs = [(1, 0), (1, k), (k, 1), (0, 1), (-k, 1), (-1, k), (-1, 0), (-1, -k), (-k, -1), (0, -1), (k, -1), (1, -k), (1, 0)]
    verts = [(cx + a * rx, cy + b * ry) for a, b in signs]
    codes = [Path.MOVETO] + [Path.CURVE4] * 12
    return Path(verts, codes)


def draw_a(ax, solid, dash, sep, blob):
    for c in solid:
        ax.add_patch(PathPatch(loop_path(*c), fc="none", ec="k", lw=1.25))
    for c in dash:
        ax.add_patch(PathPatch(loop_path(*c), fc="none", ec="k", lw=1.1, ls=(0, (9, 2.8))))
    if blob:
        v, c = smooth_verts(blob, closed=True)
        ax.add_patch(PathPatch(Path(v, c), fc="none", ec="k", lw=1.25))
    for line in sep:
        v, c = smooth_verts(line)
        ax.add_patch(PathPatch(Path(v, c), fc="none", ec="k", lw=1.1))


def draw_b(ax, levels, humps, islands, blobs):
    ax.add_patch(Rectangle((-10, 0), 20, 4.5, fc=band_colors[0], ec="none", zorder=1))
    z = 2
    for i, pts in enumerate(levels):
        v, c = smooth_verts(pts)
        v = v + [(10, 4.6), (-10, 4.6), v[0]]
        c = c + [Path.LINETO, Path.LINETO, Path.CLOSEPOLY]
        ax.add_patch(PathPatch(Path(v, c), fc=band_colors[i + 1], ec="none", zorder=z))
        z += 0.01
    for cx, cy, rx, ry, band in islands:
        ax.add_patch(PathPatch(loop_path(cx, cy, rx, ry), fc=band_colors[band], ec="k", lw=0.9, zorder=3))
    for pts in blobs:
        v, c = smooth_verts(pts, closed=True)
        ax.add_patch(PathPatch(Path(v, c), fc=band_colors[10], ec="k", lw=0.9, zorder=3))
    # faint white texture seen in the filled bands
    ax.add_patch(Rectangle((-10, 0), 20, 4.5, fc="none", ec=(1, 1, 1, 0.16), lw=0, hatch="---", zorder=4))
    for i, pts in enumerate(levels):
        v, c = smooth_verts(pts)
        ax.add_patch(PathPatch(Path(v, c), fc="none", ec="k", lw=3.5 if i == 3 else 0.95, zorder=5 + (i == 3)))
    for pts in humps:
        v, c = smooth_verts(pts)
        ax.add_patch(PathPatch(Path(v, c), fc="none", ec="k", lw=0.95, zorder=5))


fig = plt.figure(figsize=(W / 100, H / 100), dpi=100)
plt.rcParams["hatch.linewidth"] = 0.6

for box, name, panel in zip(a_boxes, day_names, a_panels):
    ax = make_axes(fig, box)
    draw_a(ax, *panel)
    style_axes(ax, name)

for box, name, panel in zip(b_boxes, day_names, b_panels):
    ax = make_axes(fig, box)
    draw_b(ax, *panel)
    style_axes(ax, name)

cax = make_axes(fig, (156, 925, 1461, 1482))
cmap = LinearSegmentedColormap.from_list("vort", cbar_stops, N=64)
cb = fig.colorbar(ScalarMappable(norm=Normalize(-4, 0), cmap=cmap), cax=cax, orientation="horizontal", ticks=cbar_ticks)
cb.set_ticklabels(cbar_labels)
cb.ax.tick_params(direction="in", length=4, width=0.8, labelsize=15.5, pad=9)
cb.outline.set_linewidth(1.0)

fig.text(534 / W, 1 - 742 / H, "(a)", family="Liberation Serif", fontsize=24, ha="center", va="center")
fig.text(534 / W, 1 - 1550 / H, "(b)", family="Liberation Serif", fontsize=24, ha="center", va="center")

fig.savefig("out.png", dpi=100)
